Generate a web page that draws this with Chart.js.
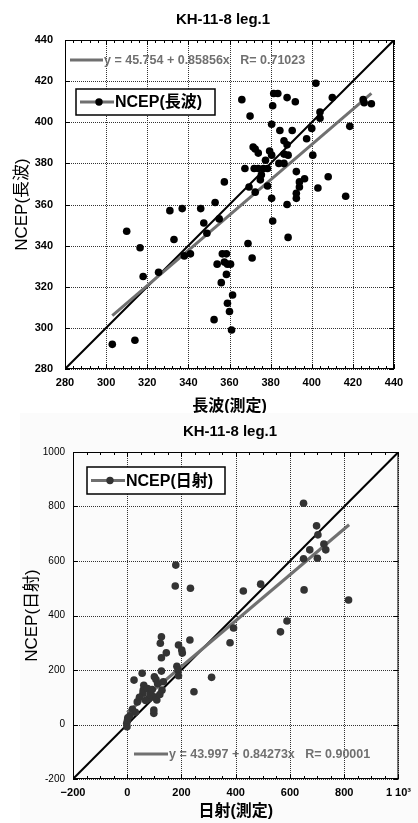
<!DOCTYPE html>
<html>
<head>
<meta charset="utf-8">
<script src="https://cdn.jsdelivr.net/npm/chart.js@4.4.1/dist/chart.umd.min.js"></script>
<style>
  html, body { margin: 0; padding: 0; background: #fff; }
  body { width: 418px; height: 823px; position: relative; overflow: hidden; }
  #lwBox { position: absolute; left: 0; top: 0; width: 418px; height: 413px; }
  #swBox { position: absolute; left: 20px; top: 413px; width: 398px; height: 410px; background: #fbfbfb; }
</style>
</head>
<body>
<div id="lwBox"><canvas id="lwChart"></canvas></div>
<div id="swBox"><canvas id="swChart"></canvas></div>
<script>
// 長波: 測定 vs NCEP
const lwMeasured = [303, 314, 310, 316.5, 318, 325.5, 331, 333, 337, 338, 341, 346, 347.5, 349, 353, 355,
  352.5, 354, 356, 356.5, 358.5, 357.5, 359, 360.5, 358.5, 359, 360, 361.5, 361, 369, 371, 381, 388.5,
  357.5, 366, 370, 381, 381.5, 383.5, 388, 392, 402, 410, 404, 404, 400, 425, 425.5, 429, 418.5,
  380.5, 384.5, 390.5, 386.5, 388, 397.5, 371.5, 372.5, 374, 379.5, 380.5, 386.5, 388.5, 377.5, 384,
  386.5, 400.5, 367.5, 372, 374, 376.5, 378.5, 375.5, 375, 392.5, 396.5, 394, 394, 392.5, 392.5, 408,
  403, 416.5, 369.5, 372.5, 378.5, 380.5, 388];
const lwNcep = [292, 294, 347, 339, 325, 327, 357, 343, 358, 335, 336, 358, 351, 346, 361, 353,
  304, 331, 322, 336, 336, 332, 331, 331, 326, 312, 308, 316, 299, 341, 334, 352, 344,
  371, 411, 403, 408, 414, 414, 412, 410, 419, 412, 405, 402, 397, 411, 409.5, 409, 398,
  399, 396, 396, 391, 389, 392, 388, 387, 385, 386, 384, 384.5, 384, 381.5, 380,
  380, 384, 377.5, 377.5, 377.5, 377.5, 377.5, 374.5, 372, 376, 372.5, 371, 368.5, 365.5, 363, 373.5,
  368, 364, 368.5, 366, 369, 363, 360];
const lwFitX = [303, 429];
const lwFitY = [306, 414];
const lwOneX = [280, 440];
const lwOneY = [280, 440];

// 日射: 測定 vs NCEP
const swMeasured = [650, 698, 703, 673, 725, 732, 650, 701, 428, 492, 652, 816, 589, 565, 179, 177, 233,
  392, 379, 231, 311, 246, 126, 122, 189, 201, 203, 144, 126, 183, 187, 189, 126, 133, 55, 25, 100,
  106, 112, 128, 61, 59, 58, 75, 86, 98, 109, 80, 37, 68, 98, 98, 19, 30, 10, 1, -2, -1, 2, 120, 92, 45];
const swNcep = [812, 729, 696, 641, 662, 641, 608, 610, 490, 515, 494, 457, 380, 340, 585, 508, 500,
  354, 300, 310, 173, 120, 322, 298, 292, 273, 262, 263, 245, 214, 200, 179, 196, 157, 188, 163, 175,
  165, 150, 126, 144, 126, 115, 132, 114, 102, 90, 95, 83, 88, 53, 41, 56, 45, 32, 16, 4, -8, 25, 110, 128, 100];
const swFitX = [0, 818];
const swFitY = [44, 733];
const swOneX = [-200, 1000];
const swOneY = [-200, 1000];

const FONT = "'Liberation Sans', 'Noto Sans CJK JP', sans-serif";
const GRAY = '#707070';

function pairs(xs, ys) {
  return xs.map((x, i) => ({ x: x, y: ys[i] }));
}

// 点線のグリッド
const dotGrid = {
  id: 'dotGrid',
  beforeDatasetsDraw(chart) {
    const { ctx, chartArea: a, scales: { x, y } } = chart;
    ctx.save();
    ctx.strokeStyle = '#333';
    ctx.lineWidth = 1;
    ctx.setLineDash([1, 1]);
    ctx.beginPath();
    x.ticks.forEach(t => {
      const px = Math.round(x.getPixelForValue(t.value)) + 0.5;
      ctx.moveTo(px, a.top); ctx.lineTo(px, a.bottom);
    });
    y.ticks.forEach(t => {
      const py = Math.round(y.getPixelForValue(t.value)) + 0.5;
      ctx.moveTo(a.left, py); ctx.lineTo(a.right, py);
    });
    ctx.stroke();
    ctx.restore();
  }
};

// 枠と内向きの目盛り
const frameTicks = {
  id: 'frameTicks',
  afterDatasetsDraw(chart, args, opts) {
    const { ctx, chartArea: a, scales: { x, y } } = chart;
    ctx.save();
    ctx.strokeStyle = '#000';
    ctx.lineWidth = 1;
    ctx.strokeRect(a.left + 0.5, a.top + 0.5, a.right - a.left - 1, a.bottom - a.top - 1);
    ctx.beginPath();
    for (let v = x.min; v <= x.max; v += opts.minor) {
      const px = Math.round(x.getPixelForValue(v)) + 0.5;
      const len = ((v - x.min) % opts.major === 0) ? 5 : 3;
      ctx.moveTo(px, a.top); ctx.lineTo(px, a.top + len);
      ctx.moveTo(px, a.bottom); ctx.lineTo(px, a.bottom - len);
    }
    y.ticks.forEach(t => {
      const py = Math.round(y.getPixelForValue(t.value)) + 0.5;
      ctx.moveTo(a.left, py); ctx.lineTo(a.left + 5, py);
      ctx.moveTo(a.right, py); ctx.lineTo(a.right - 5, py);
    });
    ctx.stroke();
    ctx.restore();
  }
};

// タイトル、凡例と回帰式
const notes = {
  id: 'notes',
  afterDraw(chart, args, o) {
    const ctx = chart.ctx;
    ctx.save();
    ctx.textBaseline = 'middle';
    // タイトル
    ctx.fillStyle = '#000';
    ctx.textAlign = 'center';
    ctx.font = 'bold 15px ' + FONT;
    ctx.fillText('KH-11-8 leg.1', o.title[0], o.title[1]);
    ctx.textAlign = 'left';
    // 回帰式
    ctx.strokeStyle = GRAY;
    ctx.lineWidth = 3;
    ctx.beginPath();
    ctx.moveTo(o.fit[0], o.fit[2]); ctx.lineTo(o.fit[1], o.fit[2]);
    ctx.stroke();
    ctx.fillStyle = GRAY;
    ctx.font = 'bold 12.5px ' + FONT;
    ctx.fillText(o.fitText, o.fit[1] + 1, o.fit[2] + 1);
    // 凡例
    const b = o.box;
    ctx.fillStyle = '#fff';
    ctx.fillRect(b[0], b[1], b[2], b[3]);
    ctx.strokeStyle = '#000';
    ctx.lineWidth = 1.5;
    ctx.strokeRect(b[0], b[1], b[2], b[3]);
    const cy = b[1] + b[3] / 2;
    ctx.strokeStyle = GRAY;
    ctx.lineWidth = 3;
    ctx.beginPath();
    ctx.moveTo(b[0] + 4, cy); ctx.lineTo(b[0] + 38, cy);
    ctx.stroke();
    ctx.fillStyle = o.dot;
    ctx.beginPath();
    ctx.arc(b[0] + 23, cy, 3.7, 0, Math.PI * 2);
    ctx.fill();
    ctx.fillStyle = '#000';
    ctx.font = 'bold 16px ' + FONT;
    ctx.fillText(o.label, b[0] + 39, cy + 1);
    ctx.restore();
  }
};

function makeChart(id, cfg) {
  return new Chart(document.getElementById(id), {
    type: 'scatter',
    data: {
      datasets: [
        { data: cfg.points, backgroundColor: cfg.dot, borderWidth: 0, pointRadius: 3.8, order: 0 },
        { data: cfg.fit, showLine: true, borderColor: GRAY, borderWidth: 3, pointRadius: 0, order: 1 },
        { data: cfg.one, showLine: true, borderColor: '#000', borderWidth: 2, pointRadius: 0, order: 2 }
      ]
    },
    options: {
      responsive: true,
      maintainAspectRatio: false,
      animation: false,
      layout: { padding: { left: 0, right: cfg.padRight, top: cfg.padTop, bottom: 0 } },
      plugins: {
        legend: { display: false },
        tooltip: { enabled: false },
        frameTicks: { minor: cfg.minor, major: cfg.step },
        notes: cfg.notes
      },
      scales: {
        x: {
          min: cfg.min, max: cfg.max,
          afterFit: s => { s.height = cfg.xAxisH; },
          ticks: {
            stepSize: cfg.step, padding: 7, color: '#000',
            font: { family: FONT, size: 11, weight: 'bold' },
            maxRotation: 0,
            callback: cfg.xLabel
          },
          grid: { display: false, drawTicks: false },
          border: { display: false },
          title: {
            display: true, text: cfg.xTitle, color: '#000',
            font: { family: FONT, size: 16, weight: 'bold' },
            padding: cfg.xTitlePad
          }
        },
        y: {
          min: cfg.min, max: cfg.max,
          afterFit: s => { s.width = cfg.yAxisW; },
          ticks: {
            stepSize: cfg.step, padding: cfg.yTickPad, color: '#000',
            font: { family: FONT, size: cfg.yTickSize, weight: cfg.yTickWeight },
            callback: v => String(v)
          },
          grid: { display: false, drawTicks: false },
          border: { display: false },
          title: {
            display: true, text: cfg.yTitle, color: '#000',
            font: { family: FONT, size: 17 },
            padding: cfg.yTitlePad
          }
        }
      }
    },
    plugins: [dotGrid, frameTicks, notes]
  });
}

makeChart('lwChart', {
  points: pairs(lwMeasured, lwNcep),
  fit: pairs(lwFitX, lwFitY),
  one: pairs(lwOneX, lwOneY),
  dot: '#000',
  min: 280, max: 440, step: 20, minor: 4,
  padRight: 24, padTop: 40,
  xAxisH: 44, yAxisW: 65,
  yTickPad: 12, yTickSize: 11, yTickWeight: 'bold',
  xTitle: '長波(測定)', xTitlePad: { top: 0, bottom: -3 },
  yTitle: 'NCEP(長波)', yTitlePad: { top: 12, bottom: 0 },
  xLabel: v => v,
  notes: {
    title: [223, 20],
    fit: [70, 103, 60], fitText: 'y = 45.754 + 0.85856x   R= 0.71023',
    box: [76, 89, 139, 26], label: 'NCEP(長波)', dot: '#000'
  }
});

makeChart('swChart', {
  points: pairs(swMeasured, swNcep),
  fit: pairs(swFitX, swFitY),
  one: pairs(swOneX, swOneY),
  dot: '#333',
  min: -200, max: 1000, step: 200, minor: 50,
  padRight: 16, padTop: 39,
  xAxisH: 44, yAxisW: 53,
  yTickPad: 8, yTickSize: 10, yTickWeight: 'normal',
  xTitle: '日射(測定)', xTitlePad: { top: 0, bottom: 2 },
  yTitle: 'NCEP(日射)', yTitlePad: { top: 2, bottom: 0 },
  xLabel: v => v === 1000 ? '1 10³' : (v < 0 ? '−' + Math.abs(v) : v),
  notes: {
    title: [210, 19],
    fit: [114, 148, 341], fitText: 'y = 43.997 + 0.84273x   R= 0.90001',
    box: [67, 54, 138, 27], label: 'NCEP(日射)', dot: '#333'
  }
});
</script>
</body>
</html>
